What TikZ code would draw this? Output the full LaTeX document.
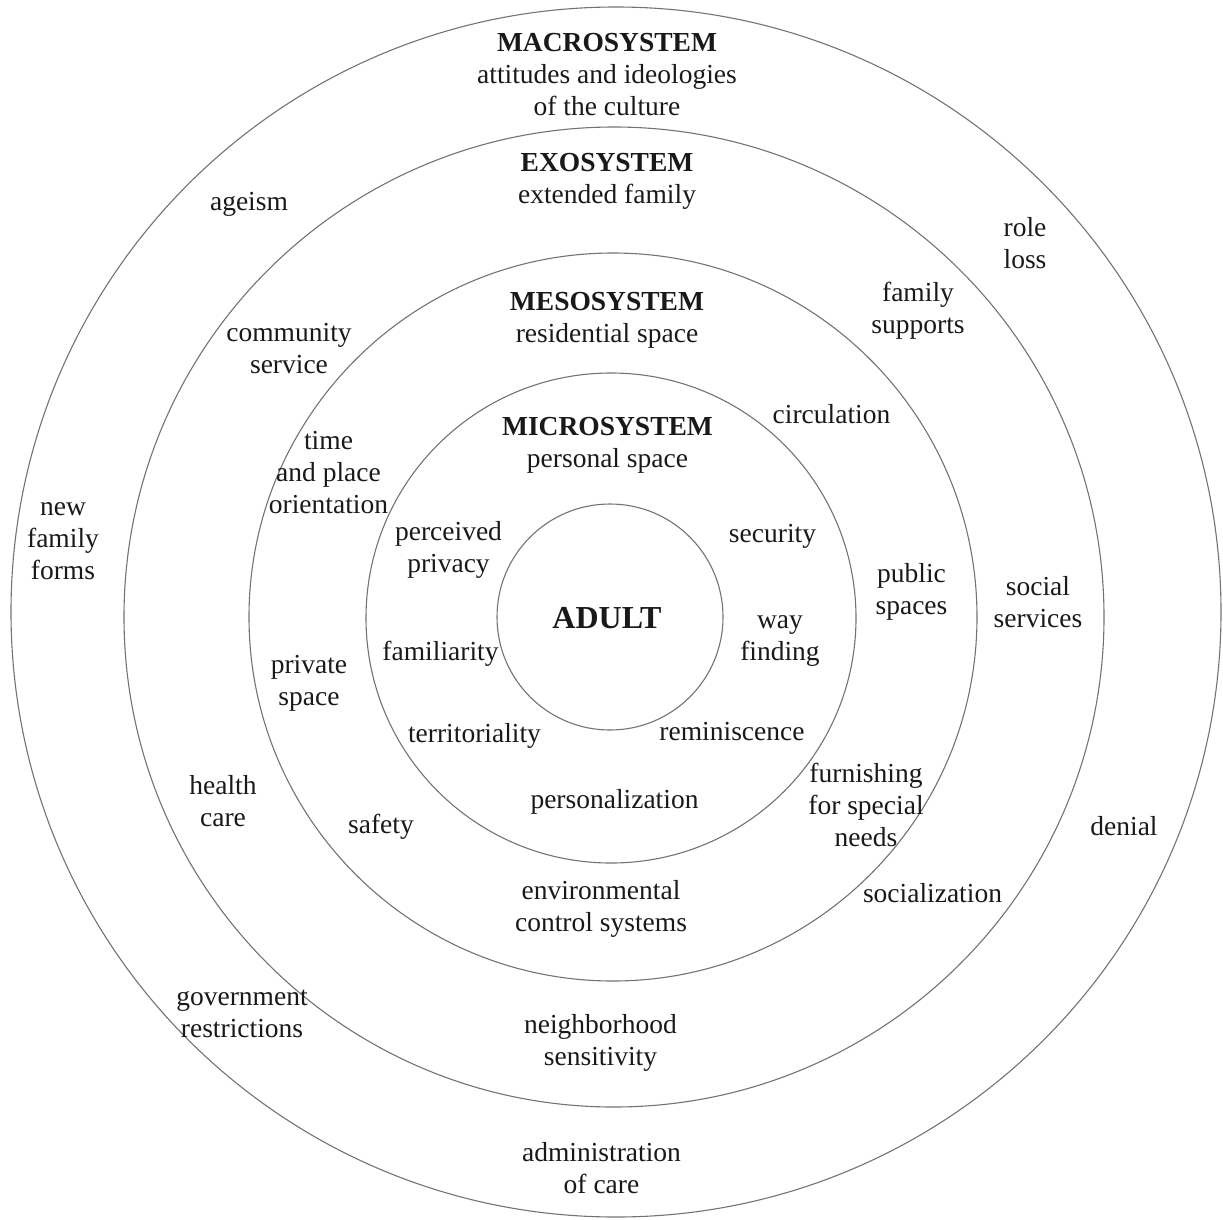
\documentclass[tikz,border=0pt]{standalone}
\usepackage{fontspec}
\setmainfont{Liberation Serif}
\newcommand{\lbl}[1]{\strut#1\strut}
\begin{document}
\begin{tikzpicture}[x=1pt,y=-1pt,
  ring/.style={circle,draw=black!55,line width=1.1pt,inner sep=0pt,fill=none},
  txt/.style={align=center,inner sep=0pt,font=\fontsize{27.5}{32}\selectfont,text=black!90},
  big/.style={inner sep=0pt,font=\fontsize{32}{38}\selectfont\bfseries,text=black!90}]
\useasboundingbox (0,0) rectangle (1223,1219);
% rings
\node[ring,minimum size=1210pt] (macroring) at (616,612) {};
\node[ring,minimum size=980pt] (exoring) at (614,617) {};
\node[ring,minimum size=728pt] (mesoring) at (613,617) {};
\node[ring,minimum size=490pt] (microring) at (611,618) {};
\node[ring,minimum size=226pt] (adultring) at (610,617) {};
% titles
\node[txt] (macro) at (607,77.1) {\lbl{\textbf{MACROSYSTEM}\\attitudes and ideologies\\of the culture}};
\node[txt] (exo) at (607,181.1) {\lbl{\textbf{EXOSYSTEM}\\extended family}};
\node[txt] (meso) at (607,320.1) {\lbl{\textbf{MESOSYSTEM}\\residential space}};
\node[txt] (micro) at (607.5,445.1) {\lbl{\textbf{MICROSYSTEM}\\personal space}};
\node[big,anchor=base] (adult) at (607,628) {ADULT};
% macrosystem labels
\node[txt] (ageism) at (249,203.6) {\lbl{ageism}};
\node[txt] (roleloss) at (1025,246.1) {\lbl{role\\loss}};
\node[txt] (newfamily) at (63,540.6) {\lbl{new\\family\\forms}};
\node[txt] (denial) at (1124,828.6) {\lbl{denial}};
\node[txt] (government) at (242,1015.1) {\lbl{government\\restrictions}};
\node[txt] (administration) at (601.5,1170.6) {\lbl{administration\\of care}};
% exosystem labels
\node[txt] (community) at (289,351.1) {\lbl{community\\service}};
\node[txt] (familysupports) at (918,311.1) {\lbl{family\\supports}};
\node[txt] (socialservices) at (1038,604.9) {\lbl{social\\services}};
\node[txt] (healthcare) at (223,803.6) {\lbl{health\\care}};
\node[txt] (socialization) at (932.5,895.6) {\lbl{socialization}};
\node[txt] (neighborhood) at (600.5,1043.1) {\lbl{neighborhood\\sensitivity}};
% mesosystem labels
\node[txt] (circulation) at (831.5,416.6) {\lbl{circulation}};
\node[txt] (timeplace) at (328.5,474.6) {\lbl{time\\and place\\orientation}};
\node[txt] (publicspaces) at (911.5,592.1) {\lbl{public\\spaces}};
\node[txt] (privatespace) at (309,682.6) {\lbl{private\\space}};
\node[txt] (furnishing) at (866,807.6) {\lbl{furnishing\\for special\\needs}};
\node[txt] (safety) at (381,826.6) {\lbl{safety}};
\node[txt] (environmental) at (601,909.1) {\lbl{environmental\\control systems}};
% microsystem labels
\node[txt] (perceived) at (448.5,550.1) {\lbl{perceived\\privacy}};
\node[txt] (security) at (772.5,535.6) {\lbl{security}};
\node[txt] (wayfinding) at (780,638.1) {\lbl{way\\finding}};
\node[txt] (familiarity) at (440.5,653.6) {\lbl{familiarity}};
\node[txt] (territoriality) at (474.5,735.6) {\lbl{territoriality}};
\node[txt] (reminiscence) at (732,733.6) {\lbl{reminiscence}};
\node[txt] (personalization) at (614.5,801.6) {\lbl{personalization}};
\end{tikzpicture}
\end{document}
